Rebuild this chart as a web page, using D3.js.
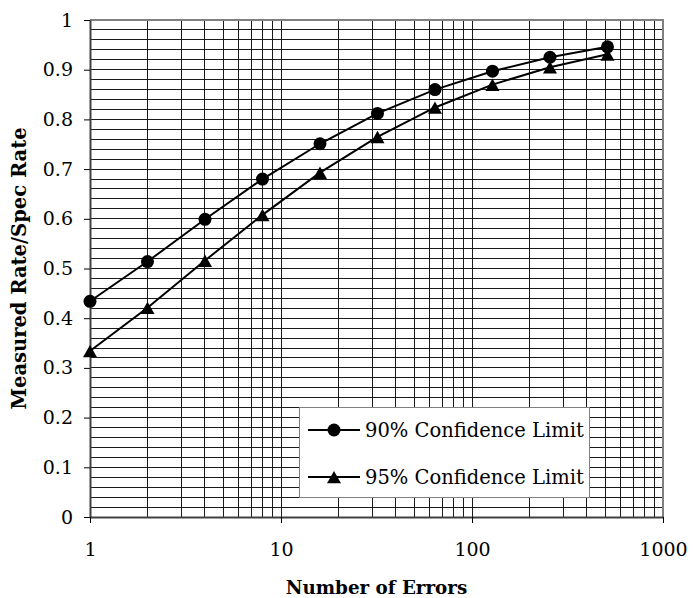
<!DOCTYPE html>
<html>
<head>
<meta charset="utf-8">
<script src="https://cdn.jsdelivr.net/npm/d3@7"></script>
<style>
  body { margin: 0; background: #fff; }
  text { font-family: "DejaVu Serif", serif; fill: #000; }
</style>
</head>
<body>
<div id="chart"></div>
<script>
// chart size and plot box
const width = 693,
      height = 598;
const plot = {left: 90, right: 663, top: 20, bottom: 517};

// data
const errors = [1, 2, 4, 8, 16, 32, 64, 128, 256, 512];
const conf90 = [0.434, 0.514, 0.599, 0.680, 0.751, 0.812, 0.860, 0.897, 0.925, 0.946];
const conf95 = [0.334, 0.421, 0.516, 0.608, 0.693, 0.765, 0.824, 0.870, 0.905, 0.931];
const seriesNames = ['90% Confidence Limit', '95% Confidence Limit'];
const xTickValues = [1, 10, 100, 1000];
const yTickValues = [0, 0.1, 0.2, 0.3, 0.4, 0.5, 0.6, 0.7, 0.8, 0.9, 1];

const svg = d3.select('#chart').append('svg')
    .attr('width', width)
    .attr('height', height);

const x = d3.scaleLog()
    .domain([1, 1000])
    .range([plot.left, plot.right]);
const y = d3.scaleLinear()
    .domain([0, 1])
    .range([plot.bottom, plot.top]);

// grid lines
const grid = svg.append('g')
    .attr('shape-rendering', 'crispEdges')
    .attr('stroke', '#1a1a1a')
    .attr('stroke-width', 1);

grid.selectAll('line.h')
  .data(y.ticks(50).filter(d => d > 0 && d < 1))
  .join('line')
    .attr('class', 'h')
    .attr('x1', plot.left).attr('x2', plot.right)
    .attr('y1', d => y(d)).attr('y2', d => y(d));

grid.selectAll('line.v')
  .data(x.ticks().filter(d => d > 1 && d < 1000))
  .join('line')
    .attr('class', 'v')
    .attr('y1', plot.top).attr('y2', plot.bottom)
    .attr('x1', d => x(d)).attr('x2', d => x(d));

// plot border (top / right)
svg.append('path')
    .attr('d', `M${plot.left},${plot.top}H${plot.right}V${plot.bottom}`)
    .attr('fill', 'none')
    .attr('stroke', '#808080')
    .attr('stroke-width', 2);

// axes
const yAxis = d3.axisLeft(y)
    .tickValues(yTickValues)
    .tickFormat(d => d3.format('~g')(d))
    .tickSizeInner(6)
    .tickSizeOuter(0)
    .tickPadding(11);
const xAxis = d3.axisBottom(x)
    .tickValues(xTickValues)
    .tickFormat(d3.format('d'))
    .tickSizeInner(6)
    .tickSizeOuter(0)
    .tickPadding(20);

const gy = svg.append('g')
    .attr('transform', `translate(${plot.left},0)`)
    .call(yAxis);
const gx = svg.append('g')
    .attr('transform', `translate(0,${plot.bottom})`)
    .call(xAxis);

[gx, gy].forEach(g => {
  g.select('.domain').attr('stroke', '#404040').attr('stroke-width', 2);
  g.selectAll('.tick line').attr('stroke', '#000').attr('stroke-width', 1);
  g.selectAll('.tick text')
    .attr('font-family', '"DejaVu Serif", serif')
    .attr('font-size', 19)
    .attr('fill', '#000');
});

// axis titles
svg.append('text')
    .attr('x', (plot.left + plot.right) / 2)
    .attr('y', 594)
    .attr('text-anchor', 'middle')
    .attr('font-weight', 'bold')
    .attr('font-size', 18.3)
    .text('Number of Errors');

svg.append('text')
    .attr('transform', `translate(26,${(plot.top + plot.bottom) / 2}) rotate(-90)`)
    .attr('text-anchor', 'middle')
    .attr('font-weight', 'bold')
    .attr('font-size', 19.5)
    .text('Measured Rate/Spec Rate');

// markers: circle and a bbox-centred triangle
const triangle = {
  draw(context, size) {
    const h = Math.sqrt(size) / 1.5;
    context.moveTo(0, -h * 0.9);
    context.lineTo(h * 1.05, h * 0.95);
    context.lineTo(-h * 1.05, h * 0.95);
    context.closePath();
  }
};
const symbols = [d3.symbolCircle, triangle];
const symbolSizes = [Math.PI * 6.5 * 6.5, 100];

const line = d3.line()
    .x(d => x(d[0]))
    .y(d => y(d[1]));

const series = [conf90, conf95].map(vals => errors.map((e, i) => [e, vals[i]]));

const lines = svg.append('g');
series.forEach((s, k) => {
  lines.append('path')
      .datum(s)
      .attr('d', line)
      .attr('fill', 'none')
      .attr('stroke', '#000')
      .attr('stroke-width', 2);
  lines.selectAll(`path.m${k}`)
    .data(s)
    .join('path')
      .attr('class', `m${k}`)
      .attr('transform', d => `translate(${x(d[0])},${y(d[1])})`)
      .attr('d', d3.symbol(symbols[k], symbolSizes[k]))
      .attr('fill', '#000');
});

// legend
const legend = svg.append('g');
legend.append('rect')
    .attr('x', 299.5).attr('y', 407.5)
    .attr('width', 290).attr('height', 90)
    .attr('fill', '#fff')
    .attr('stroke', '#808080')
    .attr('stroke-width', 1);

seriesNames.forEach((name, k) => {
  const ly = 430 + k * 47;
  legend.append('line')
      .attr('x1', 308).attr('x2', 360)
      .attr('y1', ly).attr('y2', ly)
      .attr('stroke', '#000')
      .attr('stroke-width', 2);
  legend.append('path')
      .attr('transform', `translate(334,${ly})`)
      .attr('d', d3.symbol(symbols[k], symbolSizes[k]))
      .attr('fill', '#000');
  legend.append('text')
      .attr('x', 365)
      .attr('y', ly + 7)
      .attr('font-size', 19.5)
      .text(name);
});
</script>
</body>
</html>
